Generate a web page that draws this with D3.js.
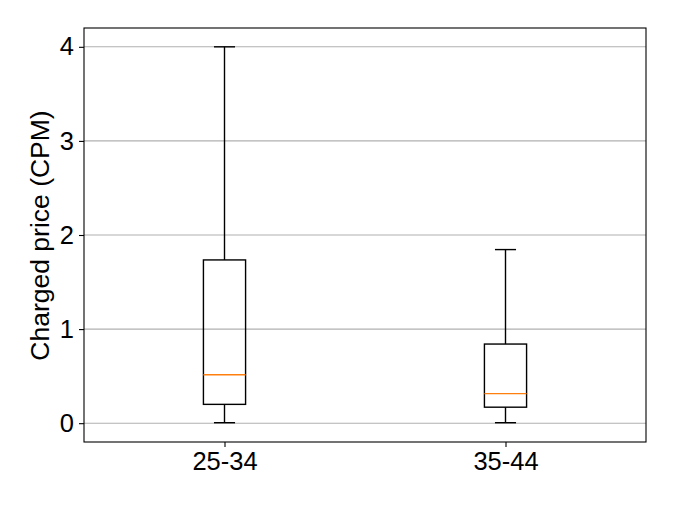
<!DOCTYPE html>
<html><head><meta charset="utf-8">
<script src="https://cdn.jsdelivr.net/npm/d3@7"></script>
<style>body{margin:0;background:#fff}svg{display:block}text{font-family:"Liberation Sans",Arial,Helvetica,sans-serif}</style>
</head><body>
<svg id="c" width="675" height="507"></svg>
<script>
const categories = ["25-34", "35-44"];
const whiskerLow = [0.005, 0.005];
const q1 = [0.20, 0.17];
const median = [0.515, 0.314];
const q3 = [1.735, 0.841];
const whiskerHigh = [4.0, 1.845];
const yTicks = [0, 1, 2, 3, 4];
const yLabel = "Charged price (CPM)";

const svg = d3.select("#c");
const L = 84, R = 646, T = 28, B = 442;
const x = d3.scaleLinear().domain([0.5, 2.5]).range([L, R]);
const y = d3.scaleLinear().domain([-0.2, 4.2]).range([B, T]);

// grid
svg.append("g").selectAll("line").data(yTicks).join("line")
  .attr("x1", L).attr("x2", R)
  .attr("y1", d => y(d)).attr("y2", d => y(d))
  .attr("stroke", "#b0b0b0").attr("stroke-width", 1.1);

// axes
const yAxis = d3.axisLeft(y).tickValues(yTicks).tickFormat(d3.format("d")).tickSize(5).tickPadding(5);
const gy = svg.append("g").attr("transform", `translate(${L},0)`).call(yAxis);
gy.select(".domain").remove();
gy.selectAll("line").attr("stroke", "#000").attr("stroke-width", 1.1);
gy.selectAll("text").attr("font-size", 25.5).attr("fill", "#000")
  .attr("font-family", '"Liberation Sans",Arial,sans-serif');

const xAxis = d3.axisBottom(x).tickValues([1, 2]).tickFormat((d, i) => categories[i]).tickSize(5).tickPadding(5);
const gx = svg.append("g").attr("transform", `translate(0,${B})`).call(xAxis);
gx.select(".domain").remove();
gx.selectAll("line").attr("stroke", "#000").attr("stroke-width", 1.1);
gx.selectAll("text").attr("font-size", 25.5).attr("fill", "#000")
  .attr("font-family", '"Liberation Sans",Arial,sans-serif');

// y label
svg.append("text")
  .attr("transform", `translate(48.5,${(T + B) / 2 + 0.5}) rotate(-90)`)
  .attr("text-anchor", "middle")
  .attr("font-size", 26.5)
  .text(yLabel);

// boxes
const boxW = x(1.075) - x(1);
const capW = x(1.0375) - x(1);
const data = categories.map((c, i) => ({ i, pos: i + 1 }));
const g = svg.append("g").attr("fill", "none").attr("stroke", "#000").attr("stroke-width", 1.4);
data.forEach(d => {
  const cx = x(d.pos), i = d.i;
  g.append("rect").attr("x", cx - boxW).attr("width", 2 * boxW)
    .attr("y", y(q3[i])).attr("height", y(q1[i]) - y(q3[i]));
  g.append("line").attr("x1", cx).attr("x2", cx).attr("y1", y(q1[i])).attr("y2", y(whiskerLow[i]));
  g.append("line").attr("x1", cx).attr("x2", cx).attr("y1", y(q3[i])).attr("y2", y(whiskerHigh[i]));
  g.append("line").attr("x1", cx - capW).attr("x2", cx + capW).attr("y1", y(whiskerLow[i])).attr("y2", y(whiskerLow[i]));
  g.append("line").attr("x1", cx - capW).attr("x2", cx + capW).attr("y1", y(whiskerHigh[i])).attr("y2", y(whiskerHigh[i]));
  g.append("line").attr("x1", cx - boxW).attr("x2", cx + boxW).attr("y1", y(median[i])).attr("y2", y(median[i]))
    .attr("stroke", "#ff7f0e");
});

// frame
svg.append("rect").attr("x", L).attr("y", T).attr("width", R - L).attr("height", B - T)
  .attr("fill", "none").attr("stroke", "#000").attr("stroke-width", 1.1);
</script>
</body></html>
